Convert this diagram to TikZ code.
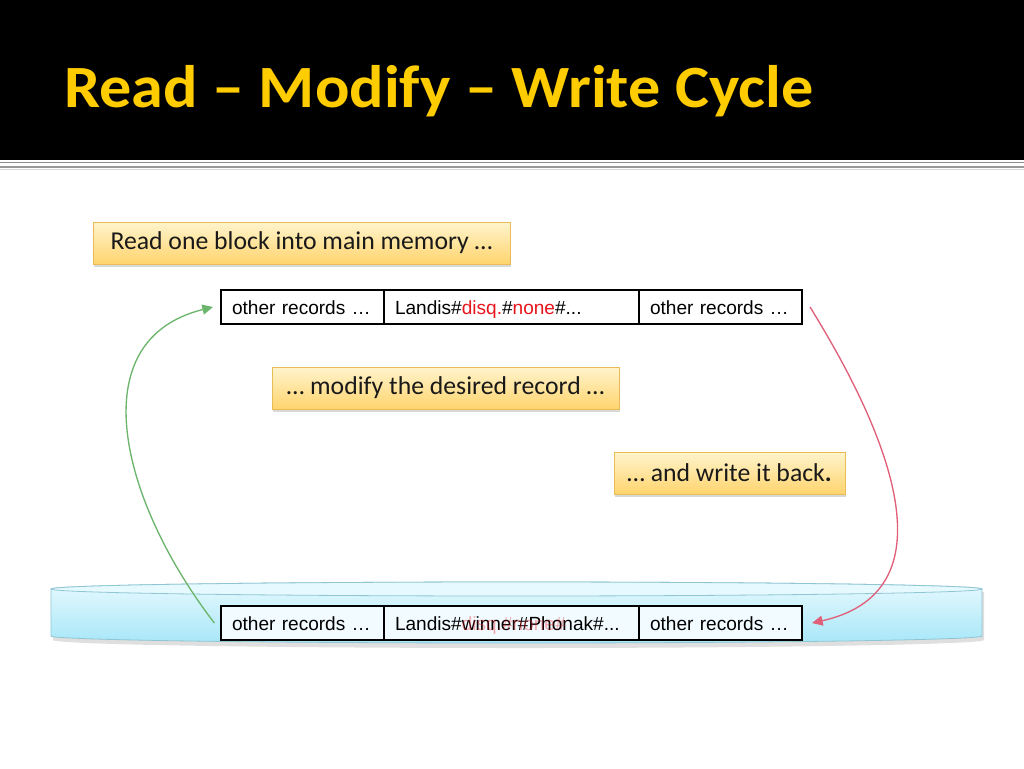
\documentclass[tikz,border=0pt]{standalone}
\usepackage{fontspec}
\setmainfont{Carlito}
\newfontfamily\arialf{Liberation Sans}
\usetikzlibrary{shadows,arrows.meta}
\definecolor{titleyellow}{HTML}{FFCC00}
\definecolor{boxtop}{HTML}{FFF4CC}
\definecolor{boxbot}{HTML}{FFD46E}
\definecolor{boxline}{HTML}{E9BC55}
\definecolor{cyltop}{HTML}{E6F9FE}
\definecolor{cylbot}{HTML}{A8E7F8}
\definecolor{cylline}{HTML}{8FC6D2}
\definecolor{greenarrow}{HTML}{6CB56C}
\definecolor{redarrow}{HTML}{E0607A}
\definecolor{recred}{HTML}{E8141C}
\definecolor{cellfill}{HTML}{F2FBFF}
\begin{document}
\begin{tikzpicture}[x=0.75pt,y=-0.75pt,
  note/.style={draw=boxline, line width=0.6pt, top color=boxtop, bottom color=boxbot,
    minimum height=31.5pt, inner xsep=0pt, inner ysep=0pt,
    font=\fontsize{19.3}{21}\selectfont, text=black!90,
    drop shadow={shadow xshift=1pt, shadow yshift=-2pt, opacity=0.3}},
  cell/.style={draw=black, line width=0.9pt, minimum height=25.5pt, inner xsep=8.25pt,
    inner ysep=0pt, outer sep=0pt, text height=13.5pt, text depth=3pt,
    font=\arialf\fontsize{14.3}{16}\selectfont, align=left, anchor=west},
  ghost/.style={cell, draw=none, fill=none, text opacity=0.35},
  narrow/.style={text width=105.75pt},
  wide/.style={text width=174.75pt},
  frame/.style={draw=black, line width=1.6pt},
  cyc/.style={line width=1pt, -{Triangle[length=8pt,width=7.5pt]}}
]
\useasboundingbox (0,0) rectangle (1024,768);
\fill[white] (0,0) rectangle (1024,768);
% header
\fill[black] (0,0) rectangle (1024,160);
\draw[black!45, line width=1.2pt] (0,162.5) -- (1024,162.5);
\draw[black!40, line width=2pt] (0,167) -- (1024,167);
\draw[black!15, line width=1pt] (0,169.5) -- (1024,169.5);
\node[anchor=base west, inner sep=0pt, text=titleyellow, xscale=1.07,
  font=\fontsize{45}{48}\selectfont\bfseries] (title) at (64,107) {Read – Modify – Write Cycle};

% notes
\node[note, minimum width=312.75pt] (n1) at (301.5,243) {Read one block into main memory …};
\node[note, minimum width=260.25pt] (n2) at (445.5,388) {… modify the desired record …};
\node[note, minimum width=173.25pt] (n3) at (729.5,473) {… and write it back\textbf{.}};

% disk cylinder
\fill[black!35, opacity=0.35] (53,592) -- (53,640) arc[start angle=180,end angle=0,x radius=465.5,y radius=8] -- (984,592) -- cycle;
\path[top color=cyltop, bottom color=cylbot, draw=cylline, line width=0.6pt]
  (51,589) -- (51,636) arc[start angle=180,end angle=0,x radius=465.5,y radius=7]
  -- (982,589) arc[start angle=0,end angle=-180,x radius=465.5,y radius=7] -- cycle;
\draw[cylline, fill=cyltop, line width=0.6pt] (516.5,589) ellipse[x radius=465.5, y radius=7];

% top record block (main memory)
\node[cell, narrow] (t1) at (221,307) {other records …};
\node[cell, wide] (t2) at (t1.east) {Landis\#\textcolor{recred}{disq.}\#\textcolor{recred}{none}\#...};
\node[cell, narrow] (t3) at (t2.east) {other records …};
\draw[frame] (t1.north west) rectangle (t3.south east);

% bottom record block (disk)
\node[cell, narrow, fill=cellfill] (b1) at (221,623) {other records …};
\node[cell, wide, fill=cellfill] (b2) at (b1.east) {Landis\#winner\#Phonak\#...};
\node[ghost, wide] (b2g) at (b1.east) {\phantom{Landis\#}\textcolor{recred}{disq.\#none\#}};
\node[cell, narrow, fill=cellfill] (b3) at (b2.east) {other records …};
\draw[frame] (b1.north west) rectangle (b3.south east);

% cycle arrows
\draw[cyc, greenarrow] ([xshift=-5pt]b1.west) .. controls (120,500) and (80,340) .. ([xshift=-6pt]t1.west);
\draw[cyc, redarrow] ([xshift=6pt]t3.east) .. controls (880,420) and (960,590) .. ([xshift=7.5pt]b3.east);
\end{tikzpicture}
\end{document}
